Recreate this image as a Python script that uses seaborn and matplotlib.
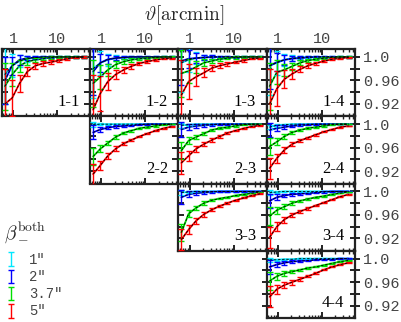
import numpy as np
import pandas as pd
import matplotlib
matplotlib.use("Agg")
import matplotlib.pyplot as plt
import seaborn as sns
from matplotlib.ticker import LogLocator, NullFormatter, FixedLocator, FixedFormatter

sns.set_style("white")
plt.rcParams["mathtext.fontset"] = "cm"
plt.rcParams["font.family"] = ["DejaVu Sans"]

# ---------------- data ----------------
theta = [0.65, 0.95, 1.4, 2.1, 3.2, 4.8, 7.2, 11, 17, 26, 40]
beams = ['1"', '2"', '3.7"', '5"']
colors = ['#00e8ff', '#0000ff', '#00e000', '#ff0000']
panels = ["1-1", "1-2", "1-3", "1-4", "2-2", "2-3", "2-4", "3-3", "3-4", "4-4"]

p11_cyan = [0.970, 0.985, 0.993, 0.997, 0.999, 1.000, 1.000, 1.000, 1.000, 1.000, 1.000]
p11_blue = [0.960, 0.985, 0.995, 0.998, 0.999, 1.000, 1.000, 1.000, 1.000, 1.000, 1.000]
p11_green = [0.950, 0.970, 0.985, 0.992, 0.995, 0.997, 0.999, 1.000, 1.000, 1.000, 1.000]
p11_red = [0.920, 0.930, 0.955, 0.975, 0.985, 0.989, 0.991, 0.994, 0.997, 0.999, 1.000]

p12_cyan = [0.980, 0.990, 0.995, 0.998, 0.999, 1.000, 1.000, 1.000, 1.000, 1.000, 1.000]
p12_blue = [0.975, 0.990, 0.996, 0.998, 0.999, 1.000, 1.000, 1.000, 1.000, 1.000, 1.000]
p12_green = [0.955, 0.966, 0.978, 0.987, 0.992, 0.995, 0.997, 0.998, 0.999, 1.000, 1.000]
p12_red = [0.910, 0.938, 0.958, 0.970, 0.978, 0.984, 0.989, 0.992, 0.995, 0.997, 0.998]

p13_cyan = [0.990, 0.995, 0.998, 0.999, 1.000, 1.000, 1.000, 1.000, 1.000, 1.000, 1.000]
p13_blue = [0.993, 0.997, 0.998, 0.999, 1.000, 1.000, 1.000, 1.000, 1.000, 1.000, 1.000]
p13_green = [0.972, 0.976, 0.983, 0.990, 0.993, 0.996, 0.998, 0.999, 1.000, 1.000, 1.000]
p13_red = [0.935, 0.958, 0.966, 0.973, 0.981, 0.985, 0.988, 0.991, 0.994, 0.997, 0.998]

p14_cyan = [0.985, 0.990, 0.995, 0.998, 0.999, 1.000, 1.000, 1.000, 1.000, 1.000, 1.000]
p14_blue = [0.985, 0.991, 0.995, 0.997, 0.998, 0.999, 1.000, 1.000, 1.000, 1.000, 1.000]
p14_green = [0.950, 0.974, 0.978, 0.984, 0.990, 0.994, 0.996, 0.998, 0.999, 1.000, 1.000]
p14_red = [0.920, 0.946, 0.962, 0.971, 0.979, 0.985, 0.989, 0.993, 0.996, 0.998, 0.999]

p22_cyan = [0.999, 1.000, 1.000, 1.000, 1.000, 1.000, 1.000, 1.000, 1.000, 1.000, 1.000]
p22_blue = [0.986, 0.991, 0.994, 0.996, 0.997, 0.998, 0.999, 1.000, 1.000, 1.000, 1.000]
p22_green = [0.945, 0.958, 0.968, 0.978, 0.985, 0.989, 0.993, 0.995, 0.997, 0.999, 1.000]
p22_red = [0.915, 0.930, 0.946, 0.958, 0.967, 0.973, 0.979, 0.984, 0.989, 0.993, 0.996]

p23_cyan = [0.998, 0.999, 1.000, 1.000, 1.000, 1.000, 1.000, 1.000, 1.000, 1.000, 1.000]
p23_blue = [0.991, 0.995, 0.997, 0.998, 0.999, 1.000, 1.000, 1.000, 1.000, 1.000, 1.000]
p23_green = [0.955, 0.972, 0.978, 0.984, 0.990, 0.993, 0.995, 0.997, 0.999, 1.000, 1.000]
p23_red = [0.934, 0.946, 0.958, 0.966, 0.973, 0.979, 0.985, 0.989, 0.993, 0.996, 0.998]

p24_cyan = [0.995, 0.998, 0.999, 1.000, 1.000, 1.000, 1.000, 1.000, 1.000, 1.000, 1.000]
p24_blue = [0.990, 0.993, 0.995, 0.997, 0.998, 0.999, 1.000, 1.000, 1.000, 1.000, 1.000]
p24_green = [0.962, 0.970, 0.979, 0.986, 0.990, 0.993, 0.995, 0.997, 0.999, 1.000, 1.000]
p24_red = [0.925, 0.942, 0.956, 0.966, 0.972, 0.977, 0.982, 0.987, 0.991, 0.995, 0.997]

p33_cyan = [0.998, 0.999, 1.000, 1.000, 1.000, 1.000, 1.000, 1.000, 1.000, 1.000, 1.000]
p33_blue = [0.990, 0.995, 0.997, 0.998, 0.999, 1.000, 1.000, 1.000, 1.000, 1.000, 1.000]
p33_green = [0.930, 0.962, 0.972, 0.980, 0.985, 0.988, 0.990, 0.993, 0.995, 0.997, 0.999]
p33_red = [0.918, 0.935, 0.950, 0.961, 0.969, 0.975, 0.980, 0.985, 0.989, 0.993, 0.996]

p34_cyan = [0.998, 0.999, 1.000, 1.000, 1.000, 1.000, 1.000, 1.000, 1.000, 1.000, 1.000]
p34_blue = [0.984, 0.990, 0.993, 0.995, 0.996, 0.997, 0.998, 0.999, 1.000, 1.000, 1.000]
p34_green = [0.958, 0.968, 0.974, 0.980, 0.984, 0.987, 0.990, 0.992, 0.995, 0.997, 0.999]
p34_red = [0.922, 0.940, 0.952, 0.960, 0.966, 0.971, 0.976, 0.981, 0.986, 0.991, 0.995]

p44_cyan = [0.998, 0.998, 0.999, 0.999, 1.000, 1.000, 1.000, 1.000, 1.000, 1.000, 1.000]
p44_blue = [0.986, 0.990, 0.993, 0.995, 0.996, 0.997, 0.998, 0.999, 0.999, 1.000, 1.000]
p44_green = [0.962, 0.970, 0.975, 0.978, 0.981, 0.984, 0.986, 0.989, 0.992, 0.995, 0.997]
p44_red = [0.935, 0.948, 0.955, 0.960, 0.965, 0.970, 0.975, 0.981, 0.986, 0.990, 0.993]

err_top_cyan = [0.050, 0.020, 0.010, 0.005, 0.003, 0.002, 0.002, 0.001, 0.001, 0.001, 0.001]
err_top_blue = [0.040, 0.015, 0.008, 0.004, 0.003, 0.002, 0.002, 0.001, 0.001, 0.001, 0.001]
err_top_green = [0.040, 0.020, 0.010, 0.006, 0.004, 0.003, 0.002, 0.002, 0.001, 0.001, 0.001]
err_top_red = [0.060, 0.030, 0.015, 0.008, 0.005, 0.004, 0.003, 0.002, 0.002, 0.001, 0.001]

err_low_cyan = [0.004, 0.002, 0.001, 0.001, 0.001, 0.0005, 0.0005, 0.0005, 0.0005, 0.0005, 0.0005]
err_low_blue = [0.012, 0.005, 0.003, 0.002, 0.0015, 0.001, 0.001, 0.001, 0.0005, 0.0005, 0.0005]
err_low_green = [0.015, 0.006, 0.004, 0.003, 0.002, 0.0015, 0.001, 0.001, 0.001, 0.0005, 0.0005]
err_low_red = [0.018, 0.008, 0.005, 0.004, 0.003, 0.002, 0.0015, 0.001, 0.001, 0.001, 0.0005]

series = {
    "1-1": [p11_cyan, p11_blue, p11_green, p11_red],
    "1-2": [p12_cyan, p12_blue, p12_green, p12_red],
    "1-3": [p13_cyan, p13_blue, p13_green, p13_red],
    "1-4": [p14_cyan, p14_blue, p14_green, p14_red],
    "2-2": [p22_cyan, p22_blue, p22_green, p22_red],
    "2-3": [p23_cyan, p23_blue, p23_green, p23_red],
    "2-4": [p24_cyan, p24_blue, p24_green, p24_red],
    "3-3": [p33_cyan, p33_blue, p33_green, p33_red],
    "3-4": [p34_cyan, p34_blue, p34_green, p34_red],
    "4-4": [p44_cyan, p44_blue, p44_green, p44_red],
}
err_top = [err_top_cyan, err_top_blue, err_top_green, err_top_red]
err_low = [err_low_cyan, err_low_blue, err_low_green, err_low_red]

# ---------------- figure ----------------
W, H = 402, 322
fig = plt.figure(figsize=(W / 100, H / 100), dpi=100)
x0, x1 = 2, 355
y0, y1 = 49, 318
cw = (x1 - x0) / 4
rh = (y1 - y0) / 4

mono = "Liberation Mono"
tick_col = "#444444"
spine_col = "#222222"
legend_handles = []

for name in panels:
    i, j = [int(s) - 1 for s in name.split("-")]
    left = (x0 + j * cw) / W
    bottom = 1 - (y0 + (i + 1) * rh) / H
    ax = fig.add_axes([left, bottom, cw / W, rh / H])
    errs = err_top if i == 0 else err_low
    rows = []
    for b, vals in zip(beams, series[name]):
        for t, v in zip(theta, vals):
            rows.append({"theta": t, "value": v, "beam": b})
    df = pd.DataFrame(rows)
    sns.lineplot(data=df, x="theta", y="value", hue="beam", hue_order=beams,
                 palette=dict(zip(beams, colors)), ax=ax, legend=False, lw=1.3)
    hs = []
    for k, (vals, c) in enumerate(zip(series[name], colors)):
        h = ax.errorbar(theta, vals, yerr=errs[k], fmt="none", ecolor=c,
                        elinewidth=1.0, capsize=2.2, capthick=1.0, zorder=3 + k)
        hs.append(h)
        ax.plot(theta, vals, color="black", lw=0.6, ls=(0, (3, 2)), zorder=10)
    if not legend_handles:
        legend_handles = hs
    ax.set_xscale("log")
    ax.set_xlim(0.56, 56)
    ax.set_ylim(0.899, 1.0135)
    ax.set_xlabel("")
    ax.set_ylabel("")
    for s in ax.spines.values():
        s.set_linewidth(1.6)
        s.set_color(spine_col)
        s.set_visible(True)
    ax.xaxis.set_major_locator(FixedLocator([1, 10]))
    ax.xaxis.set_minor_locator(LogLocator(base=10, subs=np.arange(2, 10)))
    ax.xaxis.set_minor_formatter(NullFormatter())
    ax.yaxis.set_major_locator(FixedLocator([0.92, 0.94, 0.96, 0.98, 1.0]))
    ax.tick_params(which="both", direction="in", top=True, bottom=True,
                   left=True, right=True, color=spine_col, colors=spine_col)
    ax.tick_params(which="major", length=4.5, width=1.4)
    ax.tick_params(which="minor", length=2.5, width=1.0)
    ax.tick_params(axis="both", labelleft=False, labelbottom=False,
                   labelright=False, labeltop=False)
    if i == 0:
        ax.tick_params(axis="x", labeltop=True, labelsize=11, labelcolor=tick_col, pad=2)
        ax.set_xticklabels(["1", "10"], fontfamily=mono)
    if j == 3:
        ax.tick_params(axis="y", which="major", direction="inout", length=7)
        ax.tick_params(axis="y", labelright=True, labelsize=11, labelcolor=tick_col, pad=2)
        ax.yaxis.set_major_formatter(FixedFormatter(["0.92", "", "0.96", "", "1.0"]))
        for lbl in ax.get_yticklabels():
            lbl.set_fontfamily(mono)
    ax.text(0.88, 0.1, name, transform=ax.transAxes, ha="right", va="bottom",
            fontsize=12, fontfamily="Liberation Serif", color="black", zorder=20)

fig.text(184 / W, 1 - 15 / H, r"$\vartheta[\mathrm{arcmin}]$", ha="center", va="center",
         fontsize=14)

leg = fig.legend(legend_handles, beams, loc="upper left",
                 bbox_to_anchor=(0 / W, 1 - 216 / H), frameon=False,
                 title=r"$\beta_-^{\rm both}$", title_fontsize=14,
                 prop={"family": mono, "size": 10}, handlelength=1.0,
                 handletextpad=0.8, labelspacing=0.22, borderaxespad=0.1,
                 borderpad=0.2)
for t in leg.get_texts():
    t.set_color(tick_col)
leg._legend_box.align = "left"
leg._legend_box.sep = 6

fig.savefig("out.png", dpi=100)
